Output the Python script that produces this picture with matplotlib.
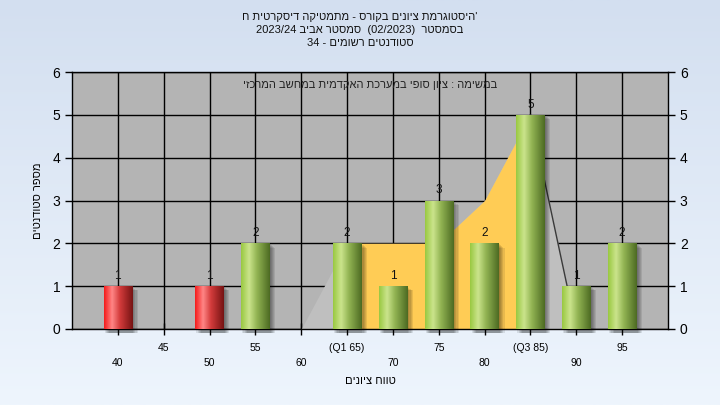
import re
import numpy as np
import matplotlib
matplotlib.use('Agg')
import matplotlib.pyplot as plt
from matplotlib.colors import LinearSegmentedColormap
from matplotlib.patches import Rectangle

plt.rcParams['font.family'] = ['Liberation Sans', 'DejaVu Sans']

# ---------------- data ----------------
grades = ['40', '45', '50', '55', '60', '65', '70', '75', '80', '85', '90', '95']
tick_labels = ['40', '45', '50', '55', '60', '(Q1 65)', '70', '75', '80', '(Q3 85)', '90', '95']
counts = [1, 0, 1, 2, 0, 2, 1, 3, 2, 5, 1, 2]
pass_grade = 55

area_grades = ['60', '65', '70', '75', '80', '85', '90']
area_values = [0, 2, 2, 2, 3, 5, 0]
q1_grade = '65'
q3_grade = '85'

title_lines = ["'היסטוגרמת ציונים בקורס - מתמטיקה דיסקרטית ח",
               "בסמסטר  (02/2023)  סמסטר אביב 2023/24",
               "סטודנטים רשומים - 34"]
note_text = "במשימה : ציון סופי במערכת האקדמית במחשב המרכזי"
x_label = "טווח ציונים"
y_label = "מספר סטודנטים"


def vis(s):
    """Turn RTL reading-order text into left-to-right glyph order."""
    r = s[::-1]
    r = re.sub(r'[0-9][0-9/.]*', lambda m: m.group(0)[::-1], r)
    r = r.translate(str.maketrans('()', ')('))
    return r


# ---------------- figure ----------------
fig = plt.figure(figsize=(7.2, 4.05), dpi=100)

bg = fig.add_axes([0, 0, 1, 1], zorder=-10)
grad_v = np.linspace(0, 1, 256).reshape(-1, 1)
bg_cmap = LinearSegmentedColormap.from_list('bg', ['#D3DFF0', '#EEF5FD'])
bg.imshow(grad_v, cmap=bg_cmap, aspect='auto', extent=(0, 1, 0, 1))
bg.axis('off')

ax = fig.add_axes([72 / 720, (405 - 329) / 405, 596 / 720, 257 / 405])
ax.set_facecolor('#B4B4B4')

pos = {g: i for i, g in enumerate(grades)}
x = np.arange(len(grades))

# area series
ax_x = [pos[g] for g in area_grades]
ax.fill_between(ax_x, 0, area_values, color='#BFBFBF', lw=0, zorder=1)
i1 = area_grades.index(q1_grade)
i3 = area_grades.index(q3_grade)
ax.fill_between(ax_x[i1:i3 + 1], 0, area_values[i1:i3 + 1], color='#FFCC55', lw=0, zorder=1.1)
ax.plot(ax_x[i3:], area_values[i3:], color='#3A3A3A', lw=1.0, zorder=1.2)

# bars
bar_w = 0.62
bars = ax.bar(x, counts, width=bar_w, color='none', lw=0, zorder=4)

green_cmap = LinearSegmentedColormap.from_list(
    'g', [(0, '#98C840'), (0.28, '#CBE48C'), (0.55, '#92B453'), (1, '#4C6A22')])
red_cmap = LinearSegmentedColormap.from_list(
    'r', [(0, '#F41A1A'), (0.28, '#FF8686'), (0.55, '#D33B3B'), (1, '#751313')])
grad_h = np.linspace(0, 1, 256).reshape(1, -1)

for rect, c, g in zip(bars, counts, grades):
    if c == 0:
        continue
    x0 = rect.get_x()
    w = rect.get_width()
    h = rect.get_height()
    # soft shadow
    for k in range(5):
        dx = 0.025 * (k + 1)
        ax.add_patch(Rectangle((x0 + dx, -0.1), w, h - 0.02 + 0.1 - 0.02 * k,
                               facecolor='black', alpha=0.09, lw=0,
                               zorder=3, clip_on=False))
    cmap = red_cmap if int(g) < pass_grade else green_cmap
    im = ax.imshow(grad_h, cmap=cmap, aspect='auto', extent=(x0, x0 + w, 0, h),
                   zorder=4, interpolation='bilinear')
    im.set_clip_path(rect)
    ax.text(rect.get_x() + w / 2, h + 0.1, str(c), ha='center', va='bottom',
            fontsize=8.5, color='#111111', zorder=6)

ax.set_xlim(-1, len(grades))
ax.set_ylim(0, 6)

ax.set_xticks(x)
ax.set_xticklabels(tick_labels, fontsize=7.5)
for i, t in enumerate(ax.xaxis.get_major_ticks()):
    t.set_pad(16.5 if i % 2 == 0 else 5.5)
ax.tick_params(axis='x', direction='inout', length=9, width=1, colors='black')
ax.set_yticks(range(0, 7))
ax.tick_params(axis='y', direction='out', length=5, width=1, labelsize=10,
               right=True, labelright=True)

ax.grid(True, color='black', lw=1)
ax.set_axisbelow(True)
for s in ax.spines.values():
    s.set_color('black')
    s.set_linewidth(1)

ax.set_xlabel(vis(x_label), fontsize=8, labelpad=6)
ax.set_ylabel(vis(y_label), fontsize=8, labelpad=7)

ax.text(0.5, 0.95, vis(note_text), transform=ax.transAxes, ha='center',
        va='center', fontsize=8, color='#222222', zorder=7)

for k, line in enumerate(title_lines):
    fig.text(0.5, 1 - (17 + 13 * k) / 405, vis(line), ha='center', va='center',
             fontsize=8, color='#111111')

fig.savefig('out.png', dpi=100)
